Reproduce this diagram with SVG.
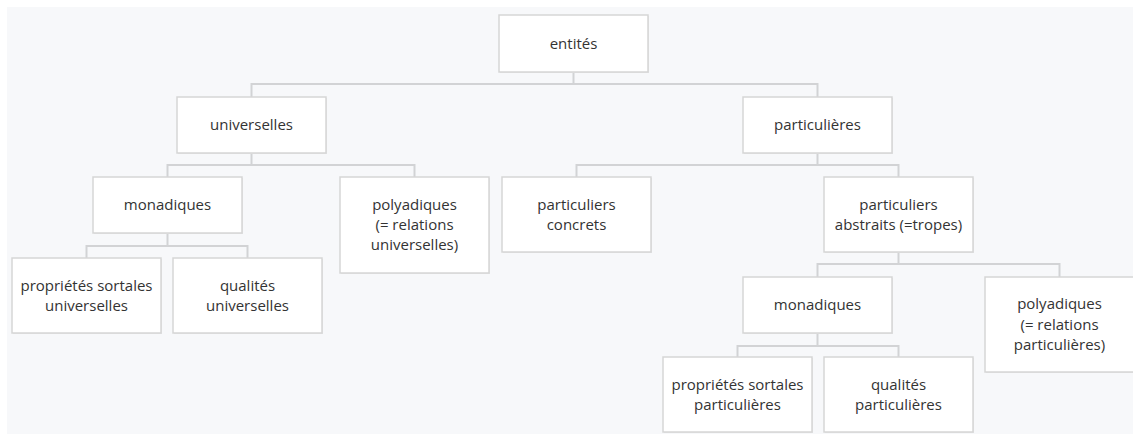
<svg xmlns="http://www.w3.org/2000/svg" width="1133" height="434" viewBox="0 0 1133 434">
<style>
.bg{fill:#f7f8fa}
.box{fill:#ffffff;stroke:#d6d6d6;stroke-width:1.5}
.sh{fill:#e4e5e7}
.t{font-family:"Open Sans","Noto Sans","Liberation Sans",sans-serif;font-size:15px;fill:#333333;text-anchor:middle}
.c{fill:none;stroke:#d2d3d5;stroke-width:2}
</style>
<rect x="0" y="0" width="1133" height="434" fill="#ffffff"/>
<rect class="bg" x="7" y="7" width="1126" height="427"/>
<g id="connectors">
<path class="c" d="M573.5 72 V84 M251.5 97 V84 H817.5 V97"/>
<path class="c" d="M251.5 153 V165 M167.5 177 V165 H414.5 V177"/>
<path class="c" d="M817.5 153 V165 M576.5 177 V165 H898.5 V177"/>
<path class="c" d="M167.5 233 V246 M86.5 258 V246 H247.5 V258"/>
<path class="c" d="M898.5 252 V264 M817.5 277 V264 H1059.5 V277"/>
<path class="c" d="M817.5 333 V346 M737.5 357 V346 H898.5 V357"/>
</g>
<g id="n-entites">
<rect class="sh" x="500" y="16" width="149" height="57"/>
<rect class="box" x="499" y="15" width="149" height="57"/>
<text class="t" x="573.5" y="48.5">entités</text>
</g>
<g id="n-universelles">
<rect class="sh" x="178" y="98" width="149" height="56"/>
<rect class="box" x="177" y="97" width="149" height="56"/>
<text class="t" x="251.5" y="130">universelles</text>
</g>
<g id="n-particulieres">
<rect class="sh" x="744" y="98" width="149" height="56"/>
<rect class="box" x="743" y="97" width="149" height="56"/>
<text class="t" x="817.5" y="130">particulières</text>
</g>
<g id="n-monadiques-u">
<rect class="sh" x="94" y="178" width="149" height="56"/>
<rect class="box" x="93" y="177" width="149" height="56"/>
<text class="t" x="167.5" y="210">monadiques</text>
</g>
<g id="n-polyadiques-u">
<rect class="sh" x="341" y="178" width="149" height="96"/>
<rect class="box" x="340" y="177" width="149" height="96"/>
<text class="t" x="414.5" y="210">polyadiques</text>
<text class="t" x="414.5" y="230">(= relations</text>
<text class="t" x="414.5" y="250">universelles)</text>
</g>
<g id="n-concrets">
<rect class="sh" x="503" y="178" width="149" height="75"/>
<rect class="box" x="502" y="177" width="149" height="75"/>
<text class="t" x="576.5" y="209.5">particuliers</text>
<text class="t" x="576.5" y="229.5">concrets</text>
</g>
<g id="n-abstraits">
<rect class="sh" x="825" y="178" width="149" height="75"/>
<rect class="box" x="824" y="177" width="149" height="75"/>
<text class="t" x="898.5" y="209.5">particuliers</text>
<text class="t" x="898.5" y="229.5">abstraits (=tropes)</text>
</g>
<g id="n-sortales-u">
<rect class="sh" x="13" y="259" width="149" height="75"/>
<rect class="box" x="12" y="258" width="149" height="75"/>
<text class="t" x="86.5" y="291">propriétés sortales</text>
<text class="t" x="86.5" y="311">universelles</text>
</g>
<g id="n-qualites-u">
<rect class="sh" x="174" y="259" width="149" height="75"/>
<rect class="box" x="173" y="258" width="149" height="75"/>
<text class="t" x="247.5" y="291">qualités</text>
<text class="t" x="247.5" y="311">universelles</text>
</g>
<g id="n-monadiques-p">
<rect class="sh" x="744" y="278" width="149" height="56"/>
<rect class="box" x="743" y="277" width="149" height="56"/>
<text class="t" x="817.5" y="310">monadiques</text>
</g>
<g id="n-polyadiques-p">
<rect class="sh" x="986" y="278" width="149" height="95"/>
<rect class="box" x="985" y="277" width="149" height="95"/>
<text class="t" x="1059.5" y="309">polyadiques</text>
<text class="t" x="1059.5" y="329.5">(= relations</text>
<text class="t" x="1059.5" y="350">particulières)</text>
</g>
<g id="n-sortales-p">
<rect class="sh" x="664" y="358" width="149" height="75"/>
<rect class="box" x="663" y="357" width="149" height="75"/>
<text class="t" x="737.5" y="390">propriétés sortales</text>
<text class="t" x="737.5" y="410">particulières</text>
</g>
<g id="n-qualites-p">
<rect class="sh" x="825" y="358" width="149" height="75"/>
<rect class="box" x="824" y="357" width="149" height="75"/>
<text class="t" x="898.5" y="390">qualités</text>
<text class="t" x="898.5" y="410">particulières</text>
</g>
</svg>
